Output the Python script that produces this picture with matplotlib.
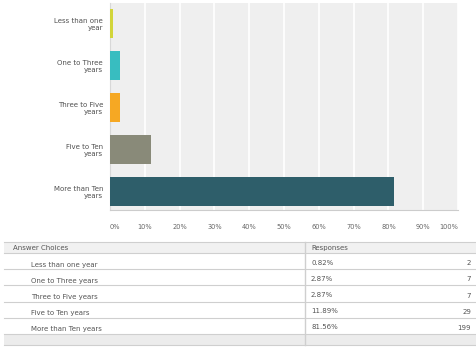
import matplotlib
matplotlib.use("Agg")
import matplotlib.pyplot as plt
from matplotlib.patches import Rectangle

# survey results: years of experience
choices = ["Less than one year", "One to Three years", "Three to Five years",
           "Five to Ten years", "More than Ten years"]
bar_labels = ["Less than one\nyear", "One to Three\nyears", "Three to Five\nyears",
              "Five to Ten\nyears", "More than Ten\nyears"]
percents = [0.82, 2.87, 2.87, 11.89, 81.56]
counts = [2, 7, 7, 29, 199]
bar_colors = ["#d2d53a", "#38bdc0", "#f6a823", "#898a79", "#2e5e6a"]
ticks = list(range(0, 101, 10))

W, H = 476, 347
fig = plt.figure(figsize=(W / 100, H / 100), dpi=100)
fig.patch.set_facecolor("white")

# ---- table underneath, drawn in pixel units ----
tab = fig.add_axes([0, 0, 1, 1])
tab.set_xlim(0, W)
tab.set_ylim(H, 0)
tab.axis("off")
tab.patch.set_alpha(0)

left, right, mid = 4, W, 305
top, head_bot, row_h = 242, 253, 16.2
line_c = "#cfcfcf"
txt_c = "#555555"
fs = 5

tab.add_patch(Rectangle((left, top), right - left, head_bot - top, fc="#f1f1f1", ec="none"))
tab.text(left + 9, head_bot - 3, "Answer Choices", fontsize=fs, color=txt_c, va="baseline")
tab.text(mid + 6, head_bot - 3, "Responses", fontsize=fs, color=txt_c, va="baseline")
tab.plot([left, right], [top, top], color=line_c, lw=0.8)
tab.plot([left, right], [head_bot, head_bot], color=line_c, lw=0.8)

for i, (name, p, n) in enumerate(zip(choices, percents, counts)):
    y0 = head_bot + i * row_h
    y1 = y0 + row_h
    tab.text(left + 27, y1 - 2.5, name, fontsize=fs, color=txt_c, va="baseline")
    tab.text(mid + 6, y0 + row_h / 2 + 1.5, "%.2f%%" % p, fontsize=fs, color=txt_c, va="center")
    tab.text(right - 5, y0 + row_h / 2 + 2, str(n), fontsize=fs, color=txt_c, va="center", ha="right")
    tab.plot([left, right], [y1, y1], color=line_c, lw=0.8)

foot_top = head_bot + len(choices) * row_h
tab.add_patch(Rectangle((left, foot_top), right - left, 345 - foot_top, fc="#ececec", ec="none"))
tab.plot([left, right], [345, 345], color=line_c, lw=0.8)
tab.plot([mid, mid], [top, 345], color=line_c, lw=1.0)

# ---- horizontal bar chart ----
ax = fig.add_axes([110 / W, 1 - 210 / H, 348 / W, 207 / H])
ax.set_facecolor("#efefef")
ypos = list(range(len(percents)))
ax.barh(ypos, percents, height=0.69, color=bar_colors, zorder=3)
ax.set_xlim(0, 100)
ax.set_ylim(4.45, -0.48)
ax.set_xticks(ticks)
ax.set_xticklabels(["%d%%" % t for t in ticks], fontsize=4.8, color="#666666")
xlabs = ax.get_xticklabels()
xlabs[0].set_horizontalalignment("left")
xlabs[-1].set_horizontalalignment("right")
ax.set_yticks(ypos)
ax.set_yticklabels(bar_labels, fontsize=5, color="#505050", linespacing=1.3)
ax.tick_params(axis="x", length=0, pad=10)
ax.tick_params(axis="y", length=0, pad=5)
ax.grid(axis="x", color="white", lw=1.2, zorder=1)
for lab in ax.get_yticklabels():
    lab.set_horizontalalignment("right")
for s in ["top", "right"]:
    ax.spines[s].set_visible(False)
ax.spines["left"].set_color("#d8d8d8")
ax.spines["bottom"].set_color("#cccccc")
ax.spines["left"].set_linewidth(0.8)
ax.spines["bottom"].set_linewidth(0.8)

fig.savefig("out.png", dpi=100)
